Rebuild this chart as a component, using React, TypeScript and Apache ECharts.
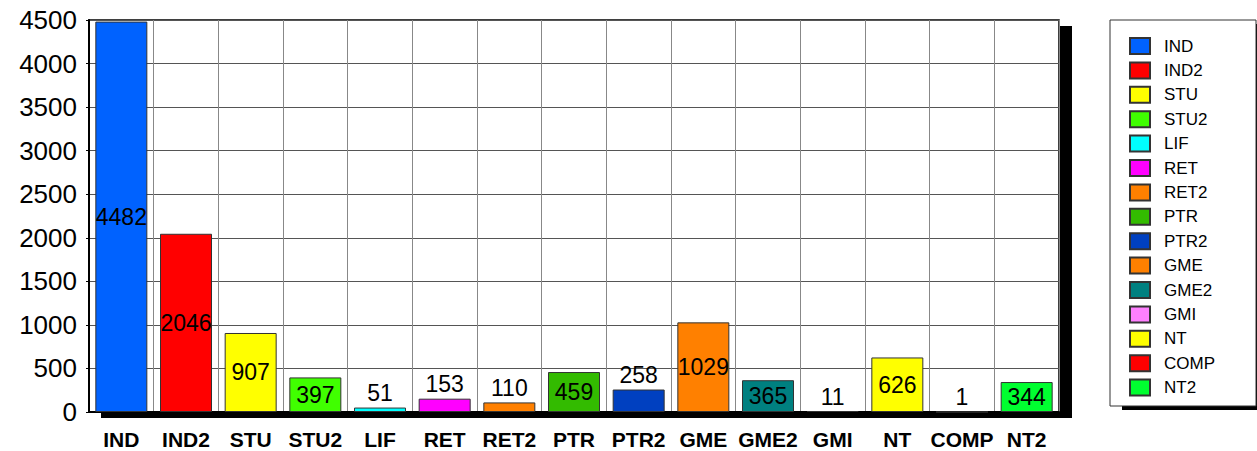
import React, { useEffect, useRef } from "react";
import * as echarts from "echarts";

const categories = ["IND", "IND2", "STU", "STU2", "LIF", "RET", "RET2", "PTR", "PTR2", "GME", "GME2", "GMI", "NT", "COMP", "NT2"];
const values = [4482, 2046, 907, 397, 51, 153, 110, 459, 258, 1029, 365, 11, 626, 1, 344];
const colors = ["#0062FF", "#FF0000", "#FFFF00", "#40FF00", "#00FFFF", "#FF00FF", "#FF8000", "#33BB00", "#0040C0", "#FF8000", "#008080", "#FF80FF", "#FFFF00", "#FF0000", "#00FF30"];
const yTicks = { min: 0, max: 4500, interval: 500 };

const FONT = "'Liberation Sans', Arial, sans-serif";

export default function App() {
  const ref = useRef<HTMLDivElement>(null);
  useEffect(() => {
    document.body.style.margin = "0";
    const chart = echarts.init(ref.current!, null, { renderer: "svg" });
    const series = categories.map((name, i) => ({
      name,
      type: "bar",
      stack: "total",
      barWidth: 52,
      itemStyle: { color: colors[i], borderColor: "#333", borderWidth: 1 },
      label: {
        show: true,
        position: values[i] >= 300 ? "inside" : "top",
        distance: 3,
        color: "#000",
        fontSize: 23,
        fontFamily: FONT,
      },
      data: categories.map((_, j) => (j === i ? values[i] : "-")),
    }));
    chart.setOption({
      animation: false,
      backgroundColor: "#fff",
      graphic: [
        { type: "rect", z: -10, shape: { x: 101, y: 26, width: 971, height: 392 }, style: { fill: "#000" } },
        { type: "rect", z: -10, shape: { x: 1122, y: 24, width: 145, height: 386 }, style: { fill: "#000" } },
        { type: "rect", z: -9, shape: { x: 1110, y: 20, width: 146, height: 386 }, style: { fill: "#fff", stroke: "#333", lineWidth: 1 } },
      ],
      grid: {
        left: 89,
        top: 20,
        right: 198,
        bottom: 39,
        show: true,
        backgroundColor: "#fff",
        borderColor: "#000",
        borderWidth: 1.5,
        z: -5,
      },
      legend: {
        orient: "vertical",
        left: 1129,
        top: 37,
        padding: 0,
        itemWidth: 20,
        itemHeight: 16,
        itemGap: 6.4,
        icon: "rect",
        data: categories,
        textStyle: { color: "#000", fontSize: 17, fontFamily: FONT, padding: [0, 0, 0, 9] },
      },
      xAxis: {
        type: "category",
        data: categories,
        axisLine: { lineStyle: { color: "#000", width: 2 } },
        axisTick: { show: false },
        splitLine: { show: true, lineStyle: { color: "#888", width: 1 } },
        axisLabel: { color: "#000", fontSize: 21, fontWeight: "bold", fontFamily: FONT, margin: 17, interval: 0 },
      },
      yAxis: {
        type: "value",
        min: yTicks.min,
        max: yTicks.max,
        interval: yTicks.interval,
        axisLine: { show: true, lineStyle: { color: "#000", width: 2 } },
        axisTick: { show: true, length: 3, lineStyle: { color: "#000" } },
        splitLine: { show: true, lineStyle: { color: "#555", width: 1 } },
        axisLabel: { color: "#000", fontSize: 26, fontFamily: FONT, margin: 12, formatter: (v: number) => String(v) },
      },
      series,
    });
    return () => chart.dispose();
  }, []);
  return <div ref={ref} style={{ width: 1257, height: 451 }} />;
}
